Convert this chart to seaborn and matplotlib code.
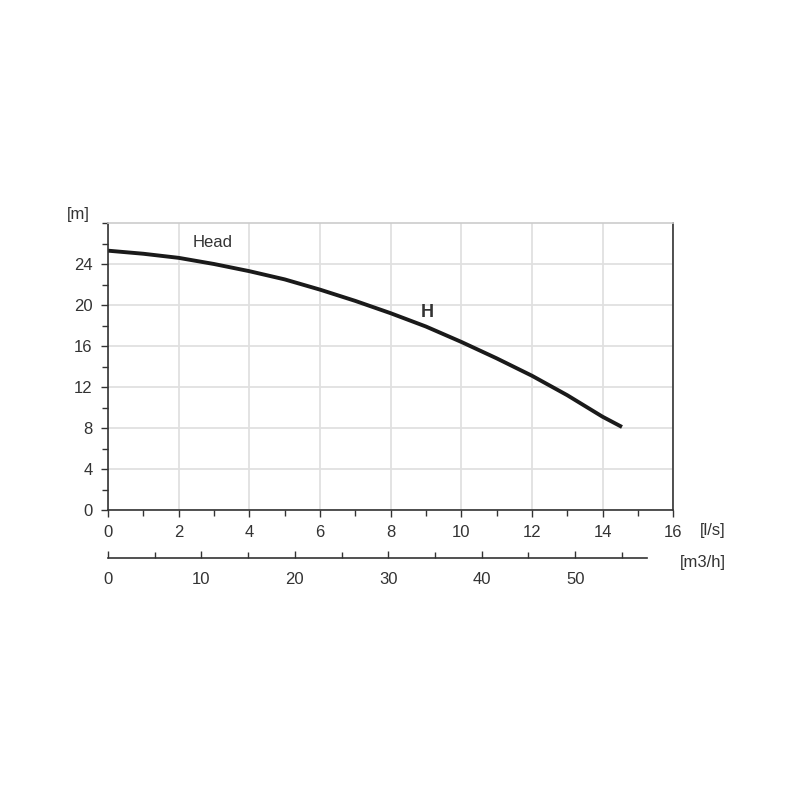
import matplotlib
matplotlib.use("Agg")
import matplotlib.pyplot as plt
import pandas as pd
import seaborn as sns
from matplotlib.ticker import FixedLocator, MultipleLocator

# values
flow_ls = [0, 1, 2, 3, 4, 5, 6, 7, 8, 9, 10, 11, 12, 13, 14, 14.55]
head_m = [25.3, 25.0, 24.6, 24.0, 23.3, 22.5, 21.5, 20.4, 19.2, 17.9,
          16.4, 14.8, 13.1, 11.2, 9.1, 8.1]
x_ticks_ls = [0, 2, 4, 6, 8, 10, 12, 14, 16]
y_ticks_m = [0, 4, 8, 12, 16, 20, 24]
m3h_ticks = [0, 10, 20, 30, 40, 50]
m3h_minor = [5, 15, 25, 35, 45, 55]


def main():
    sns.set_style("white")
    plt.rcParams["font.family"] = ["Liberation Sans", "DejaVu Sans"]

    df = pd.DataFrame({"flow": flow_ls, "head": head_m})
    dark = "#333333"
    fs = 12

    fig = plt.figure(figsize=(8, 8), dpi=100)
    ax = fig.add_axes([0.135, 0.3625, 0.7065, 0.35875])
    ax.grid(True, which="major", color="#e0e0e0", linewidth=1.3)
    ax.set_axisbelow(True)
    sns.lineplot(data=df, x="flow", y="head", color="#1a1a1a", linewidth=2.8,
                 ax=ax, solid_joinstyle="round", solid_capstyle="butt")

    ax.set_xlim(0, 16)
    ax.set_ylim(0, 28)
    ax.set_xticks(x_ticks_ls)
    ax.set_yticks(y_ticks_m)
    ax.xaxis.set_minor_locator(MultipleLocator(1))
    ax.yaxis.set_minor_locator(MultipleLocator(2))
    ax.tick_params(axis="both", which="both", direction="out", color=dark,
                   labelcolor=dark, labelsize=fs, bottom=True, left=True)
    ax.tick_params(axis="both", which="major", length=5, width=1)
    ax.tick_params(axis="both", which="minor", length=4, width=1)
    ax.tick_params(axis="x", which="major", pad=6)
    ax.tick_params(axis="y", which="major", pad=6)
    ax.set_xlabel("")
    ax.set_ylabel("")
    for side in ["left", "bottom", "right"]:
        ax.spines[side].set_color(dark)
        ax.spines[side].set_linewidth(1.2)
    ax.spines["top"].set_color("#cccccc")
    ax.spines["top"].set_linewidth(1.2)

    ax.text(2.4, 26.1, "Head", fontsize=fs, color=dark, va="center")
    ax.text(9.05, 19.3, "H", fontsize=13, fontweight="bold", color=dark,
            ha="center", va="center")
    fig.text(78 / 800, 1 - 215 / 800, "[m]", fontsize=fs, color=dark,
             ha="center", va="center")
    fig.text(713 / 800, 1 - 530 / 800, "[l/s]", fontsize=fs, color=dark,
             ha="center", va="center")
    fig.text(703 / 800, 1 - 562 / 800, "[m3/h]", fontsize=fs, color=dark,
             ha="center", va="center")

    # secondary flow scale in m3/h
    ax2 = fig.add_axes([0.135, 1 - 558 / 800, 0.7065, 0.001])
    ax2.set_facecolor("none")
    ax2.set_xlim(0, 565 / 9.34)
    ax2.set_yticks([])
    ax2.set_xticks(m3h_ticks)
    ax2.xaxis.set_minor_locator(FixedLocator(m3h_minor))
    for side in ["left", "top", "right"]:
        ax2.spines[side].set_visible(False)
    ax2.spines["bottom"].set_color(dark)
    ax2.spines["bottom"].set_linewidth(1.2)
    ax2.spines["bottom"].set_bounds(0, 57.7)
    ax2.tick_params(axis="x", which="both", direction="in", color=dark,
                    labelcolor=dark, labelsize=fs, bottom=True)
    ax2.tick_params(axis="x", which="major", length=5, width=1, pad=10)
    ax2.tick_params(axis="x", which="minor", length=4, width=1)

    fig.savefig("out.png", dpi=100)
    plt.close(fig)


if __name__ == "__main__":
    main()
